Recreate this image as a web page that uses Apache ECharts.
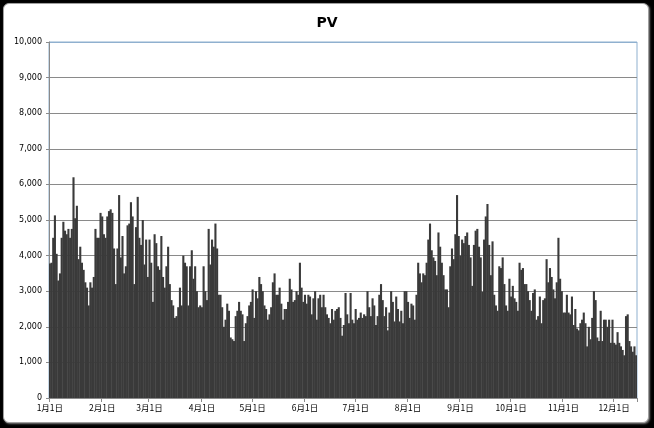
<!DOCTYPE html>
<html><head><meta charset="utf-8">
<script src="https://cdn.jsdelivr.net/npm/echarts@6/dist/echarts.min.js"></script>
<style>
html,body{margin:0;padding:0;background:#000;width:654px;height:428px;overflow:hidden}
#frame{position:absolute;left:3px;top:3px;width:644px;height:418px;background:#fff;border:1px solid #a0a0a0;border-radius:6px;box-shadow:1px 1px 2px #777}
#c{position:absolute;left:0;top:0;width:654px;height:428px}
</style></head>
<body><div id="frame"></div><div id="c"></div>
<script>
// Daily PV values (Jan 1 .. Dec 14)
const pvPart1 = [3780,3800,4500,5130,4050,3300,3500,4500,4950,4700,4600,4750,4500,4750,6200,5050,5400,3900,4250,3800,3600,3250,3100,2600,3250,3100,3400,4750,4500,4500,5200,5100,4600,4500];
const pvPart2 = [5100,5250,5300,5200,4200,3200,4200,5700,3950,4550,3500,3700,4850,4900,5500,5100,3200,4800,5650,4500,4300,5000,3750,4450,3400,4450,3800,2700,4600,4350,3700,3600,4550,3400,3100];
const pvPart3 = [3700,4250,3200,2750,2600,2250,2300,2550,3100,2600,4000,3800,3700,2600,3700,4150,3350,3700,3000,2550,2600,2550,3700,3000,2750,4750,3750,4450,4250,4900,4200,2900,2900,2550,2000,2200];
const pvPart4 = [2650,2450,1700,1650,1600,2300,2450,2700,2450,2350,1600,2100,2300,2600,2700,3050,2250,3000,2800,3400,3200,3000,2600,2500,2200,2350,2550,3250,3500,2900,2900,3100,2650,2200,2500];
const pvPart5 = [2500,2700,3350,3050,2700,2750,3000,2900,3800,3100,2700,2900,2650,2900,2850,2350,2800,3000,2200,2800,2900,2550,2900,2550,2350,2250,2100,2500,2200,2450,2500,2550,2250,1750,2050,2950];
const pvPart6 = [2350,2100,2950,2200,2100,2500,2200,2250,2400,2250,2350,2300,3000,2550,2300,2800,2600,2050,2300,2900,3200,2750,2300,2550,1900,2400,3000,2700,2150,2850,2500,2150,2450,2100,3000];
const pvPart7 = [3000,2700,2250,2650,2600,2200,2900,3800,3500,3250,3500,3450,3800,4450,4900,4150,3950,3850,3450,4650,4250,3800,3450,3050,3050,2550,3700,4200,3900,4600,5700,4550,4000,4450,4350,4550];
const pvPart8 = [4650,4300,3950,3150,4300,4700,4750,4250,3950,2980,4450,5100,5450,4300,3450,4400,2900,2600,2450,3700,3650,3950,3200,2600,2450,3350,2850,3150,2800,2700,2450,3800,3600,3650,3200];
const pvPart9 = [3200,3000,2750,2450,2950,3050,2200,2300,2850,2100,2750,2800,3900,3250,3650,3400,3050,2800,3250,4500,3350,3000,2400,2400,2900,2400,2350,2850,2050,2500,1950,1900,2100,2200,2400,2100];
const pvPart10 = [1450,2000,1650,2250,3000,2750,1700,1600,2450,1600,2200,2200,2000,2200,1550,2200,1550,1500,1850,1550,1450,1350,1200,2300,2350,1600,1450,1300,1450,1200];
const pv = [].concat(pvPart1,pvPart2,pvPart3,pvPart4,pvPart5,pvPart6,pvPart7,pvPart8,pvPart9,pvPart10);

// Categories: consecutive days starting Jan 1
const startYear = 2011;
const categories = [];
const isFirst = [];
for (let i = 0; i < pv.length; i++) {
  const d = new Date(startYear, 0, 1 + i);
  categories.push((d.getMonth()+1) + '月' + d.getDate() + '日');
  isFirst.push(d.getDate() === 1);
}
const yTicks = {min: 0, max: 10000, interval: 1000};

const chart = echarts.init(document.getElementById('c'), null, {renderer:'canvas'});
const splitColors = [];
for (let v = yTicks.min; v <= yTicks.max; v += yTicks.interval) splitColors.push(v === yTicks.max ? '#8fb0cf' : '#8a8a8a');

chart.setOption({
  backgroundColor: 'transparent',
  animation: false,
  title: {
    text: 'PV', left: 'center', top: 11,
    textStyle: {fontFamily: 'DejaVu Sans', fontSize: 14, fontWeight: 'bold', color: '#000'}
  },
  grid: {left: 49, right: 17, top: 42, bottom: 30, show: true, borderColor: '#8fb0cf', borderWidth: 1, backgroundColor: 'transparent'},
  xAxis: {
    type: 'category', data: categories, boundaryGap: true,
    axisLine: {lineStyle: {color: '#8a8a8a', width: 1}},
    axisTick: {show: true, length: 4, interval: (i) => isFirst[i], lineStyle: {color: '#8a8a8a'}},
    axisLabel: {interval: (i) => isFirst[i], margin: 6, color: '#000', fontSize: 8.5, fontFamily: 'Noto Sans CJK JP', align: 'center'},
    splitLine: {show: false}
  },
  yAxis: {
    type: 'value', min: yTicks.min, max: yTicks.max, interval: yTicks.interval,
    axisLine: {show: true, lineStyle: {color: '#8a8a8a'}},
    axisTick: {show: true, length: 3, lineStyle: {color: '#8a8a8a'}},
    axisLabel: {margin: 7, color: '#000', fontSize: 8, fontFamily: 'DejaVu Sans',
      formatter: (v) => v.toLocaleString('en-US')},
    splitLine: {show: true, lineStyle: {color: splitColors, width: 1}}
  },
  series: [{
    type: 'bar', data: pv, barWidth: 2.1,
    itemStyle: {color: '#3a3a3a'},
    emphasis: {disabled: true}
  }]
});
</script></body></html>
